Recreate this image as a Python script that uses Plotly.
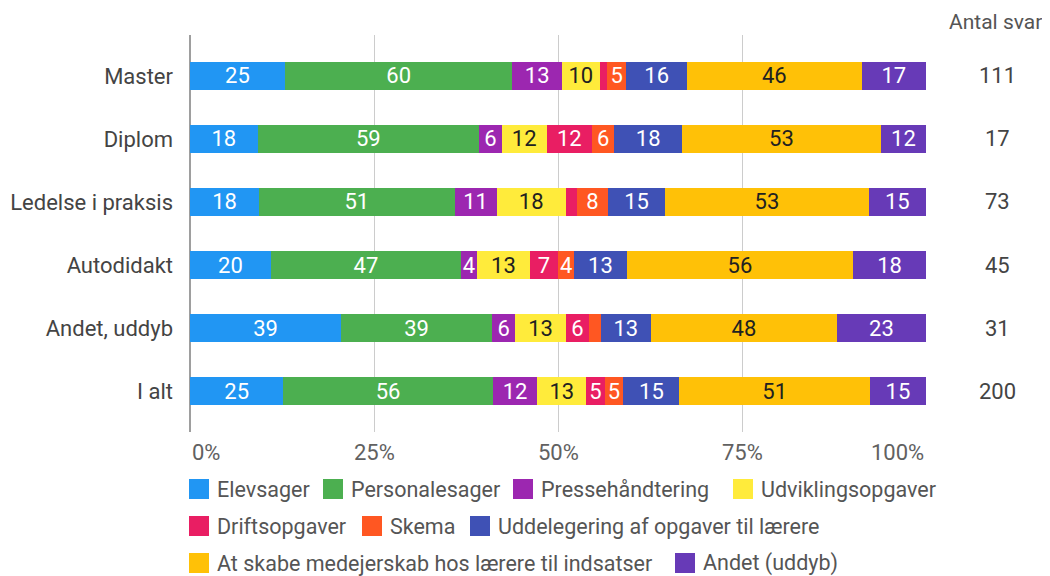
import plotly.graph_objects as go

categories = ["Master", "Diplom", "Ledelse i praksis", "Autodidakt", "Andet, uddyb", "I alt"]
antal_svar = [111, 17, 73, 45, 31, 200]

series_names = ["Elevsager", "Personalesager", "Pressehåndtering", "Udviklingsopgaver",
                "Driftsopgaver", "Skema", "Uddelegering af opgaver til lærere",
                "At skabe medejerskab hos lærere til indsatser", "Andet (uddyb)"]
elevsager = [25, 18, 18, 20, 39, 25]
personalesager = [60, 59, 51, 47, 39, 56]
pressehaandtering = [13, 6, 11, 4, 6, 12]
udviklingsopgaver = [10, 12, 18, 13, 13, 13]
driftsopgaver = [2, 12, 3, 7, 6, 5]
skema = [5, 6, 8, 4, 3, 5]
uddelegering = [16, 18, 15, 13, 13, 15]
medejerskab = [46, 53, 53, 56, 48, 51]
andet = [17, 12, 15, 18, 23, 15]
series_values = [elevsager, personalesager, pressehaandtering, udviklingsopgaver,
                 driftsopgaver, skema, uddelegering, medejerskab, andet]

colors = ["#2196F3", "#4CAF50", "#9C27B0", "#FFEB3B", "#E91E63", "#FF5722",
          "#3F51B5", "#FFC107", "#673AB7"]
text_colors = ["#ffffff", "#ffffff", "#ffffff", "#212121", "#ffffff", "#ffffff",
               "#ffffff", "#212121", "#ffffff"]
x_ticks = [0, 25, 50, 75, 100]
x_tick_labels = ["0%", "25%", "50%", "75%", "100%"]

# the page body has an 8px margin, so the figure is drawn 8px smaller and the
# layout is expressed in screen pixels of the reference
OFF = 8
W, H = 1050 - OFF, 576 - OFF
L, R, T, B = 190, 926, 35, 432          # plot area in screen pixels
FONT = "Roboto, Arial, sans-serif"
FS = 22
LFS = 21.5


def px(x):
    return (x - L) / (R - L)


def py(y):
    return (B - y) / (B - T)


fig = go.Figure()
for name, vals, col, tcol in zip(series_names, series_values, colors, text_colors):
    fig.add_trace(go.Bar(
        y=categories, x=vals, name=name, orientation="h",
        marker=dict(color=col, line=dict(width=0)),
        text=[str(v) if v >= 4 else "" for v in vals],
        textposition="inside", insidetextanchor="middle", textangle=0,
        constraintext="none",
        textfont=dict(family=FONT, size=FS, color=tcol),
        width=0.44, showlegend=False,
    ))

fig.update_layout(
    width=W, height=H, barmode="stack", barnorm="percent",
    margin=dict(l=L - OFF, r=W - (R - OFF), t=T - OFF, b=H - (B - OFF), autoexpand=False),
    plot_bgcolor="white", paper_bgcolor="white",
    font=dict(family=FONT, size=FS, color="#444444"),
    xaxis=dict(range=[0, 100], tickvals=x_ticks, showticklabels=False,
               showgrid=True, gridcolor="#cccccc", gridwidth=1,
               zeroline=True, zerolinecolor="#9e9e9e", zerolinewidth=2, fixedrange=True),
    yaxis=dict(type="category", categoryorder="array", categoryarray=categories,
               range=[5.65, -0.65], showgrid=False, zeroline=False,
               ticks="", ticklabelstandoff=16,
               tickfont=dict(family=FONT, size=FS, color="#444444")),
)

# x tick labels
for v, lab in zip(x_ticks, x_tick_labels):
    anchor = "left" if v == 0 else ("right" if v == 100 else "center")
    fig.add_annotation(x=v, y=py(452), xref="x", yref="paper", text=lab,
                       showarrow=False, xanchor=anchor, yanchor="middle",
                       font=dict(family=FONT, size=FS, color="#616161"))

# Antal svar column
fig.add_annotation(x=px(1044), y=py(22), xref="paper", yref="paper", text="Antal svar",
                   showarrow=False, xanchor="right", yanchor="middle",
                   font=dict(family=FONT, size=21, color="#555555"))
for cat, n in zip(categories, antal_svar):
    fig.add_annotation(x=px(997), y=cat, xref="paper", yref="y", text=str(n),
                       showarrow=False, xanchor="center", yanchor="middle",
                       font=dict(family=FONT, size=FS, color="#444444"))

# manual legend
legend_rows = [
    [(0, 189), (1, 323), (2, 513), (3, 733)],
    [(4, 189), (5, 362), (6, 470)],
    [(7, 189), (8, 675)],
]
row_y = [489, 526, 563]
sw = 20
for row, yc in zip(legend_rows, row_y):
    for idx, x0 in row:
        fig.add_shape(type="rect", xref="paper", yref="paper",
                      x0=px(x0), x1=px(x0 + sw), y0=py(yc + sw / 2), y1=py(yc - sw / 2),
                      fillcolor=colors[idx], line=dict(width=0), layer="above")
        fig.add_annotation(x=px(x0 + sw + 6), y=py(yc), xref="paper", yref="paper",
                           text=series_names[idx], showarrow=False,
                           xanchor="left", yanchor="middle",
                           font=dict(family=FONT, size=LFS, color="#555555"))

fig.write_html("out.html")
